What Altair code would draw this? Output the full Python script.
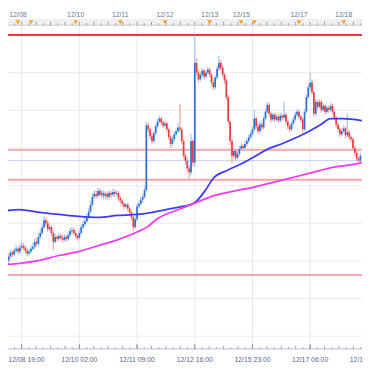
import altair as alt
import pandas as pd

# hourly candles, hour index 0 = 12/08 19:00 (weekend hours removed)
hours = list(range(-7, 183))
first_open = 121.38
close = [
    121.42,121.46,121.44,121.48,121.50,121.47,121.51,121.53,
    121.51,121.48,121.45,121.47,121.50,121.52,121.57,121.55,121.62,121.66,
    121.72,121.79,121.76,121.70,121.72,121.66,121.57,121.62,121.60,121.63,
    121.61,121.59,121.62,121.60,121.64,121.68,121.69,121.66,121.63,121.61,
    121.66,121.72,121.75,121.78,121.82,121.88,121.95,122.03,122.06,122.04,
    122.09,122.05,122.07,122.04,122.06,122.03,122.07,122.05,122.08,122.06,
    122.07,122.02,121.99,121.96,121.93,121.95,121.91,121.87,121.82,121.72,
    121.80,121.93,121.96,122.00,122.03,122.10,122.76,122.72,122.65,122.60,
    122.68,122.75,122.80,122.83,122.79,122.76,122.78,122.72,122.64,122.57,
    122.62,122.67,122.70,122.74,122.72,122.60,122.45,122.40,122.32,122.28,
    122.60,122.38,123.40,123.30,123.23,123.28,123.32,123.26,123.30,123.33,
    123.28,123.20,123.15,123.25,123.34,123.40,123.35,123.28,123.22,123.05,
    122.80,122.60,122.45,122.50,122.43,122.47,122.52,122.55,122.53,122.57,
    122.60,122.64,122.67,122.72,122.83,122.75,122.70,122.77,122.74,122.83,
    122.90,122.97,122.88,122.82,122.87,122.82,122.85,122.81,122.86,122.84,
    122.87,122.80,122.75,122.72,122.78,122.82,122.87,122.90,122.85,122.82,
    122.72,122.90,123.05,123.15,123.20,123.10,122.88,123.00,122.95,123.00,
    122.92,122.96,122.90,122.94,122.92,122.96,122.90,122.84,122.77,122.72,
    122.67,122.70,122.73,122.66,122.69,122.64,122.62,122.53,122.48,122.42,122.40,122.45,
]
high = [
    121.45,121.49,121.48,121.51,121.54,121.52,121.55,121.57,
    121.56,121.53,121.50,121.50,121.53,121.56,121.60,121.61,121.66,121.70,
    121.75,121.83,121.82,121.79,121.75,121.74,121.68,121.65,121.64,121.66,
    121.65,121.64,121.65,121.64,121.67,121.71,121.72,121.71,121.68,121.65,
    121.69,121.75,121.79,121.82,121.86,121.92,121.99,122.07,122.10,122.09,
    122.12,122.11,122.10,122.09,122.09,122.08,122.10,122.09,122.11,122.10,
    122.10,122.09,122.04,122.01,121.98,121.97,121.97,121.93,121.89,121.84,
    121.83,121.96,121.99,122.03,122.06,122.14,122.80,122.79,122.74,122.68,
    122.70,122.78,122.83,122.86,122.85,122.81,122.81,122.80,122.74,122.66,
    122.65,122.70,122.73,122.78,122.98,122.74,122.62,122.48,122.43,122.35,
    122.67,122.62,123.68,123.45,123.33,123.31,123.35,123.34,123.33,123.36,
    123.35,123.30,123.23,123.27,123.37,123.47,123.43,123.38,123.30,123.24,
    123.07,122.82,122.62,122.53,122.52,122.50,122.55,122.58,122.57,122.60,
    122.63,122.67,122.70,122.75,122.92,122.85,122.78,122.80,122.79,122.86,
    122.93,123.00,122.99,122.90,122.89,122.89,122.88,122.87,122.89,122.88,
    123.00,122.89,122.82,122.77,122.80,122.85,122.90,122.93,122.92,122.87,
    122.84,122.93,123.08,123.18,123.30,123.23,123.12,123.03,123.02,123.03,
    123.02,122.99,122.98,122.97,122.96,122.99,122.98,122.92,122.86,122.79,
    122.74,122.73,122.76,122.75,122.88,122.71,122.66,122.64,122.55,122.50,122.44,122.48,
]
low = [
    121.34,121.40,121.41,121.42,121.46,121.44,121.45,121.49,
    121.48,121.45,121.42,121.43,121.45,121.48,121.50,121.52,121.53,121.60,
    121.64,121.70,121.73,121.67,121.68,121.63,121.48,121.55,121.57,121.58,
    121.58,121.56,121.57,121.57,121.58,121.62,121.65,121.64,121.60,121.58,
    121.59,121.64,121.70,121.73,121.76,121.80,121.86,121.93,122.01,122.01,
    122.02,122.03,122.02,122.01,122.01,122.00,122.01,122.02,122.03,122.03,
    122.04,121.99,121.96,121.93,121.90,121.91,121.88,121.84,121.79,121.68,
    121.70,121.78,121.91,121.94,121.97,122.01,122.08,122.69,122.62,122.57,
    122.58,122.66,122.73,122.78,122.76,122.73,122.74,122.69,122.61,122.53,
    122.55,122.60,122.65,122.68,122.69,122.57,122.42,122.36,122.29,122.20,
    122.25,122.34,122.34,123.27,123.20,123.21,123.25,123.23,123.24,123.28,
    123.25,123.17,123.12,123.13,123.23,123.32,123.32,123.25,123.18,123.02,
    122.77,122.56,122.37,122.42,122.40,122.41,122.45,122.50,122.50,122.51,
    122.55,122.58,122.62,122.65,122.70,122.72,122.67,122.68,122.71,122.72,
    122.81,122.88,122.85,122.79,122.80,122.79,122.80,122.78,122.79,122.81,
    122.82,122.77,122.72,122.69,122.70,122.76,122.80,122.85,122.82,122.79,
    122.68,122.70,122.88,123.03,123.12,123.07,122.85,122.86,122.92,122.93,
    122.89,122.90,122.87,122.88,122.89,122.90,122.87,122.81,122.74,122.69,
    122.64,122.65,122.68,122.63,122.64,122.61,122.59,122.50,122.45,122.39,122.37,122.38,
]

ma_blue_h = [-7.4, -1, 9.5, 20, 30.5, 41, 51.5, 62, 72.5, 85.7, 90.9, 93.6, 98.8, 103,
             110.3, 117.2, 125, 131.4, 140.8, 152.4, 160.8, 166, 172.4, 182.9]
ma_blue = [121.89, 121.90, 121.87, 121.85, 121.83, 121.82, 121.84, 121.85, 121.88, 121.93,
           121.95, 121.98, 122.10, 122.22, 122.30, 122.36, 122.44, 122.51, 122.58, 122.68,
           122.77, 122.83, 122.83, 122.81]
ma_pink_h = [-7.4, -1, 9.5, 20, 30.5, 41, 51.5, 62, 67.3, 72.5, 85.7, 93.6, 101.4, 111.9,
             125, 135.6, 146.1, 156.6, 167.1, 177.6, 182.9]
ma_pink = [121.34, 121.35, 121.38, 121.43, 121.47, 121.53, 121.59, 121.67, 121.72, 121.80,
           121.91, 121.97, 122.03, 122.08, 122.13, 122.18, 122.23, 122.28, 122.33, 122.36, 122.38]

levels = [123.685, 122.51, 122.40, 122.205, 121.23]
level_colors = ["#e8383d", "#f5a6a6", "#c9cdea", "#f5a6a6", "#f28b8b"]
level_widths = [2.0, 2.0, 1.0, 2.0, 1.5]

grid_prices = [123.30, 122.915, 122.53, 122.145, 121.76, 121.375, 120.99, 120.605]
bottom_h = [0, 31, 62, 93, 124, 155, 186]
bottom_labels = ["12/08 19:00", "12/10 02:00", "12/11 09:00", "12/12 16:00",
                 "12/15 23:00", "12/17 06:00", "12/18 13:00"]
top_h = [-2, 29, 53, 77, 101, 118, 149, 173]
top_labels = ["12/08", "12/10", "12/11", "12/12", "12/13", "12/15", "12/17", "12/18"]
marker_h = [-2, 5, 29, 53, 77, 101, 118, 125, 149, 173]

W, H = 362, 362
XD = [-7.357, 182.87]
YD = [120.30, 123.92]
xs = alt.Scale(domain=XD, nice=False, zero=False)
ys = alt.Scale(domain=YD, nice=False, zero=False)

opens = [first_open] + close[:-1]
rows = []
for h, o, c, hi, lo in zip(hours, opens, close, high, low):
    up = c >= o
    rows.append({
        "h": h, "open": o, "close": c,
        "high": max(hi, o, c), "low": min(lo, o, c),
        "body": "#2c6fd3" if up else "#e63b3b",
        "wick": "#a8c6ee" if up else "#f3a8a8",
    })
cdf = pd.DataFrame(rows)

X = alt.X("h:Q", scale=xs, axis=None)

# top ruler band
band = alt.Chart(pd.DataFrame({"a": [0]})).mark_rect(color="#f0f0f3").encode(
    x=alt.value(0), x2=alt.value(W), y=alt.value(7), y2=alt.value(13))
band_line = alt.Chart(pd.DataFrame({"a": [0]})).mark_rule(color="#c3c7d4", strokeWidth=1).encode(
    x=alt.value(0), x2=alt.value(W), y=alt.value(13.5))

tick_pos = [i * 31 / 8 for i in range(-2, 50)]
tick_df = pd.DataFrame({"h": tick_pos, "k": [i % 2 for i in range(-2, 50)]})
top_ticks_s = alt.Chart(tick_df[tick_df.k == 0]).mark_rule(color="#9aa0b4", strokeWidth=1).encode(
    x=X, y=alt.value(10), y2=alt.value(13.5))
top_ticks_l = alt.Chart(tick_df[tick_df.k == 1]).mark_rule(color="#9aa0b4", strokeWidth=1).encode(
    x=X, y=alt.value(11.5), y2=alt.value(13.5))
bot_ticks_s = alt.Chart(tick_df[tick_df.k == 0]).mark_rule(color="#9aa0b4", strokeWidth=1).encode(
    x=X, y=alt.value(341.5), y2=alt.value(344.5))
bot_ticks_l = alt.Chart(tick_df[tick_df.k == 1]).mark_rule(color="#9aa0b4", strokeWidth=1).encode(
    x=X, y=alt.value(342.8), y2=alt.value(344.5))

markers = alt.Chart(pd.DataFrame({"h": marker_h})).mark_point(
    shape="triangle-down", filled=True, size=24, color="#f5a31e", opacity=1).encode(
    x=X, y=alt.value(10.5))

top_text = alt.Chart(pd.DataFrame({"h": top_h, "t": top_labels})).mark_text(
    fontSize=7, font="Liberation Sans", color="#6b7796", baseline="middle").encode(
    x=X, y=alt.value(3.5), text="t:N")

# grid
vgrid = alt.Chart(pd.DataFrame({"h": bottom_h[:-1]})).mark_rule(color="#e6e7ee", strokeWidth=1).encode(
    x=X, y=alt.value(14), y2=alt.value(344.5))
hgrid = alt.Chart(pd.DataFrame({"p": grid_prices})).mark_rule(color="#ebebf0", strokeWidth=1).encode(
    y=alt.Y("p:Q", scale=ys, axis=None), x=alt.value(0), x2=alt.value(W))

bot_line = alt.Chart(pd.DataFrame({"a": [0]})).mark_rule(color="#b5b9d3", strokeWidth=1).encode(
    x=alt.value(0), x2=alt.value(W), y=alt.value(344.5))
bot_major = alt.Chart(pd.DataFrame({"h": bottom_h})).mark_rule(color="#8d92aa", strokeWidth=1).encode(
    x=X, y=alt.value(339.5), y2=alt.value(344.5))
bot_text_first = alt.Chart(pd.DataFrame({"t": bottom_labels[:1]})).mark_text(
    fontSize=7, font="Liberation Sans", color="#55648c", baseline="middle", align="left").encode(
    x=alt.value(0.5), y=alt.value(355.5), text="t:N")
bot_text = alt.Chart(pd.DataFrame({"h": bottom_h[1:], "t": bottom_labels[1:]})).mark_text(
    fontSize=7, font="Liberation Sans", color="#55648c", baseline="middle").encode(
    x=X, y=alt.value(355.5), text="t:N")

lvl = alt.Chart(pd.DataFrame({"p": levels, "c": level_colors, "w": level_widths})).mark_rule().encode(
    y=alt.Y("p:Q", scale=ys, axis=None), x=alt.value(0), x2=alt.value(W),
    color=alt.Color("c:N", scale=None), strokeWidth=alt.StrokeWidth("w:Q", scale=None))

wick = alt.Chart(cdf).mark_rule(strokeWidth=1.3).encode(
    x=X, y=alt.Y("high:Q", scale=ys, axis=None), y2="low:Q",
    color=alt.Color("wick:N", scale=None))
body = alt.Chart(cdf).mark_rule(strokeWidth=1.7).encode(
    x=X, y=alt.Y("open:Q", scale=ys, axis=None), y2="close:Q",
    color=alt.Color("body:N", scale=None))

blue = alt.Chart(pd.DataFrame({"h": ma_blue_h, "v": ma_blue})).mark_line(
    color="#3c3cf0", strokeWidth=1.8, interpolate="monotone").encode(
    x=X, y=alt.Y("v:Q", scale=ys, axis=None))
pink = alt.Chart(pd.DataFrame({"h": ma_pink_h, "v": ma_pink})).mark_line(
    color="#f03cf0", strokeWidth=1.8, interpolate="monotone").encode(
    x=X, y=alt.Y("v:Q", scale=ys, axis=None))

chart = alt.layer(
    vgrid, hgrid, band, band_line, top_ticks_s, top_ticks_l, markers, top_text,
    bot_line, bot_ticks_s, bot_ticks_l, bot_major, bot_text_first, bot_text,
    lvl, wick, body, blue, pink,
).properties(
    width=W, height=H, autosize=alt.AutoSizeParams(type="none"), padding=0,
    background="white",
).configure_view(stroke=None)

chart.save("out.html", embed_options={"renderer": "svg", "actions": False})
